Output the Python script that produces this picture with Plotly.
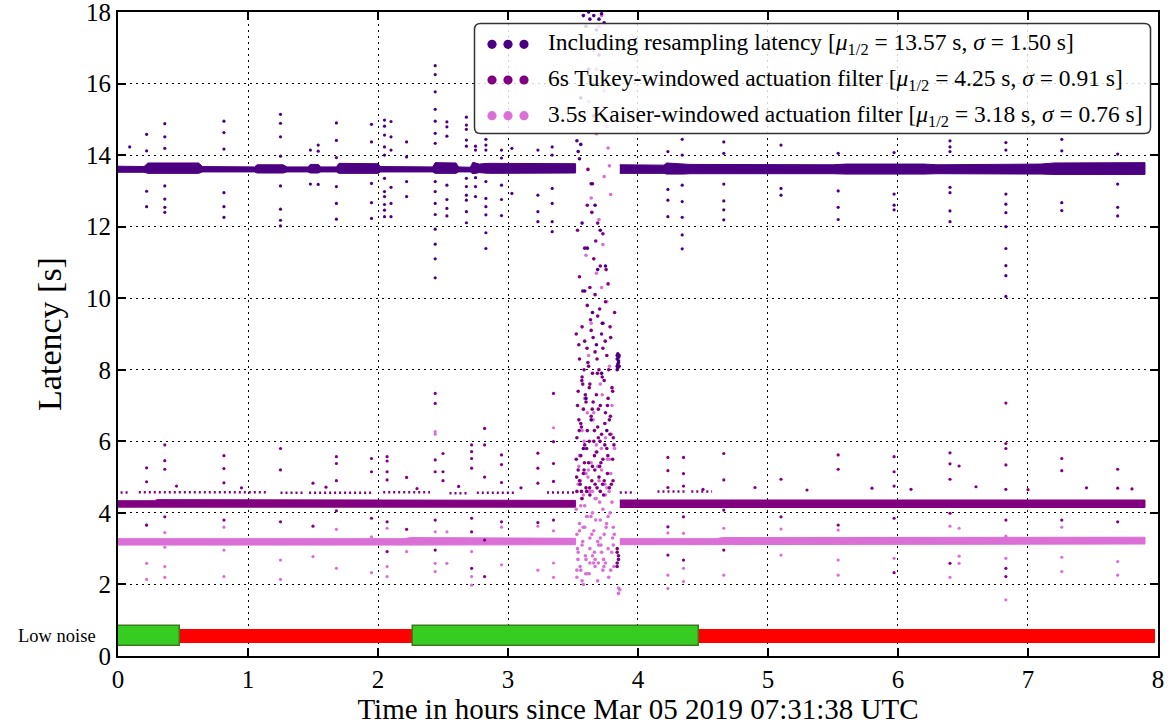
import plotly.graph_objects as go

# ---------------- data ----------------
C1, C2, C3 = "#4B0082", "#800080", "#DA70D6"

# dense latency bands: knot times, lower and upper edge (s)
S1_L_T  = [0.00, 0.20, 0.23, 0.62, 0.65, 1.05, 1.07, 1.27, 1.30, 1.46, 1.48, 1.54, 1.56, 1.68, 1.70, 2.00, 2.02, 2.42, 2.44, 2.60, 2.62, 2.71, 2.73, 2.78, 2.85, 3.52]
S1_L_HI = [13.69, 13.68, 13.78, 13.78, 13.68, 13.67, 13.73, 13.73, 13.67, 13.67, 13.74, 13.74, 13.67, 13.67, 13.77, 13.76, 13.68, 13.67, 13.79, 13.78, 13.67, 13.66, 13.80, 13.75, 13.77, 13.76]
S1_L_LO = [13.52, 13.52, 13.49, 13.49, 13.53, 13.53, 13.50, 13.50, 13.53, 13.53, 13.50, 13.50, 13.53, 13.53, 13.49, 13.49, 13.53, 13.53, 13.49, 13.49, 13.53, 13.53, 13.48, 13.51, 13.49, 13.50]
S1_R_T  = [3.86, 4.20, 4.22, 4.35, 4.40, 5.50, 5.60, 6.20, 6.30, 7.10, 7.20, 7.90]
S1_R_HI = [13.73, 13.72, 13.78, 13.76, 13.74, 13.73, 13.75, 13.75, 13.73, 13.75, 13.78, 13.79]
S1_R_LO = [13.49, 13.49, 13.47, 13.47, 13.48, 13.48, 13.47, 13.47, 13.48, 13.47, 13.46, 13.46]

S2_L_T  = [0.00, 0.28, 0.30, 0.55, 0.58, 3.52]
S2_L_HI = [4.34, 4.34, 4.37, 4.37, 4.35, 4.35]
S2_L_LO = [4.16, 4.16, 4.15, 4.15, 4.16, 4.16]
S2_R_T  = [3.86, 7.90]
S2_R_HI = [4.36, 4.36]
S2_R_LO = [4.15, 4.15]

S3_L_T  = [0.00, 2.20, 2.25, 3.52]
S3_L_HI = [3.28, 3.28, 3.31, 3.29]
S3_L_LO = [3.10, 3.10, 3.12, 3.11]
S3_R_T  = [3.86, 4.60, 4.65, 7.90]
S3_R_HI = [3.28, 3.28, 3.31, 3.32]
S3_R_LO = [3.11, 3.11, 3.13, 3.13]

# sparse secondary Tukey band (start, end) at ~4.57 s
S2_SEC_START = [0.02, 0.16, 1.25, 1.47, 2.04, 2.55, 2.76, 3.30, 3.86, 4.15, 4.41]
S2_SEC_END   = [0.09, 1.15, 1.42, 1.96, 2.40, 2.70, 3.06, 3.52, 3.97, 4.37, 4.57]
S2_SEC_LEVEL = [4.57, 4.58, 4.56, 4.56, 4.58, 4.55, 4.56, 4.57, 4.57, 4.60, 4.60]

# outliers
S1_OUT_T = [0.09, 0.22, 0.22, 0.22, 0.22, 0.36, 0.36, 0.36, 0.36, 0.36, 0.36, 0.36,
            0.815, 0.815, 0.815, 0.815, 0.815, 0.815, 1.25, 1.25, 1.25, 1.25, 1.25, 1.25, 1.25, 1.25,
            1.48, 1.48, 1.54, 1.54, 1.54, 1.68, 1.68, 1.68, 1.68, 1.68, 1.68,
            1.95, 1.95, 1.95, 1.95, 1.95, 2.05, 2.05, 2.05, 2.05, 2.05, 2.05, 2.05, 2.05, 2.05, 2.05, 2.05,
            2.10, 2.10, 2.10, 2.10, 2.10, 2.10, 2.22, 2.22, 2.22, 2.22,
            2.44, 2.44, 2.44, 2.44, 2.44, 2.44, 2.44, 2.44, 2.44, 2.44, 2.44, 2.44, 2.44, 2.44, 2.44,
            2.53, 2.53, 2.53, 2.53, 2.53, 2.53, 2.53,
            2.68, 2.68, 2.68, 2.68, 2.68, 2.68, 2.68, 2.68, 2.68, 2.68, 2.68,
            2.75, 2.75, 2.75, 2.75, 2.75, 2.83, 2.83, 2.83, 2.83, 2.83, 2.83, 2.83, 2.83, 2.83,
            2.95, 2.95, 2.95, 2.95, 2.95, 3.03, 3.03, 3.23, 3.23, 3.23, 3.23,
            3.34, 3.34, 3.34, 3.34, 3.34, 3.34,
            4.23, 4.23, 4.23, 4.23, 4.34, 4.34, 4.34, 4.34, 4.34, 4.34, 4.34,
            4.66, 4.66, 4.66, 4.66, 4.66, 4.66, 5.10, 5.10, 5.10, 5.54, 5.54, 5.54, 5.54,
            5.97, 5.97, 5.97, 5.97, 6.40, 6.40, 6.40, 6.40, 6.40, 6.40, 6.40,
            6.83, 6.83, 6.83, 6.83, 6.83, 6.83, 6.83, 6.83, 6.83, 6.83,
            7.26, 7.26, 7.26, 7.26, 7.69, 7.69, 7.69, 7.69]
S1_OUT_V = [14.23, 14.58, 14.12, 12.99, 12.56, 14.88, 14.51, 14.19, 13.14, 12.77, 12.54, 12.40,
            14.95, 14.63, 14.17, 12.95, 12.56, 12.26, 15.14, 14.89, 14.51, 13.97, 13.14, 12.49, 12.18, 12.02,
            14.14, 13.19, 14.28, 14.11, 13.18, 14.90, 14.41, 13.93, 13.12, 12.65, 12.21,
            14.86, 14.37, 13.21, 12.67, 12.23, 14.98, 14.81, 14.56, 14.23, 14.00, 13.35, 12.98, 12.84, 12.62, 12.46, 12.28,
            14.94, 14.51, 14.14, 13.10, 12.65, 12.28, 14.37, 13.95, 13.26, 12.84,
            16.50, 16.25, 15.77, 15.28, 14.95, 14.61, 14.33, 13.26, 12.98, 12.65, 12.34, 11.93, 11.51, 11.10, 10.57,
            14.93, 14.79, 14.53, 13.16, 12.76, 12.51, 12.30,
            15.06, 14.84, 14.72, 14.42, 14.25, 13.35, 13.12, 12.88, 12.74, 12.42, 12.11,
            14.25, 14.14, 13.37, 13.12, 12.84, 14.44, 14.28, 14.14, 13.26, 12.79, 12.56, 12.33, 11.83, 11.39,
            14.14, 13.92, 13.16, 12.76, 12.31, 14.19, 12.93, 14.14, 12.88, 12.42, 12.14,
            14.23, 14.00, 13.07, 12.65, 12.14, 11.86,
            14.10, 13.04, 12.74, 12.28, 14.44, 14.00, 13.16, 12.70, 12.26, 11.77, 11.38,
            14.37, 14.05, 13.19, 12.72, 12.47, 12.19, 14.28, 13.07, 12.88, 14.05, 13.00, 12.54, 12.20,
            14.07, 12.91, 12.60, 12.47, 14.40, 14.23, 14.10, 13.10, 12.95, 12.44, 12.14,
            14.35, 14.14, 12.91, 12.63, 12.39, 12.00, 11.39, 10.91, 10.63, 10.05,
            14.44, 14.12, 12.67, 12.45, 14.03, 13.19, 12.54, 12.30]

S2_OUT_T = [0.22, 0.22, 0.22, 0.36, 0.36, 0.36, 0.36, 0.815, 0.815, 0.815, 0.815, 1.25, 1.25, 1.25,
            1.50, 1.50, 1.68, 1.68, 1.68, 1.68, 1.95, 1.95, 1.95, 2.07, 2.07, 2.07, 2.07, 2.07, 2.07,
            2.22, 2.22, 2.44, 2.44, 2.44, 2.44, 2.44, 2.44, 2.50, 2.50, 2.50,
            2.72, 2.72, 2.72, 2.72, 2.72, 2.72, 2.72, 2.82, 2.82, 2.82, 2.82, 2.82,
            2.95, 2.95, 2.95, 2.95, 3.23, 3.23, 3.23, 3.23, 3.35, 3.35, 3.35, 3.35, 3.35,
            4.23, 4.23, 4.23, 4.23, 4.23, 4.35, 4.35, 4.35, 4.35, 4.35, 4.66, 4.66, 4.66, 4.66,
            5.10, 5.10, 5.54, 5.54, 5.54, 5.97, 5.97, 5.97, 5.97, 5.97, 6.40, 6.40, 6.40, 6.40, 6.40, 6.47,
            6.83, 6.83, 6.83, 6.83, 6.83, 6.83, 6.83, 6.83, 7.26, 7.26, 7.26, 7.69, 7.69, 7.69,
            0.45, 0.95, 1.60, 2.30, 2.62, 3.10, 4.50, 4.90, 5.30, 5.80, 6.10, 6.60, 7.00, 7.45, 7.80]
S2_OUT_V = [5.26, 4.87, 3.66, 5.90, 5.46, 5.22, 3.89, 5.60, 5.24, 4.84, 3.80, 5.80, 5.20, 3.75,
            4.83, 3.63, 5.57, 5.38, 4.90, 4.06, 5.52, 5.15, 3.85, 5.57, 5.45, 5.15, 4.92, 3.75, 2.92,
            4.99, 3.54, 7.34, 7.06, 5.48, 5.15, 3.80, 2.96, 5.66, 5.15, 4.90,
            5.90, 5.71, 5.52, 5.25, 3.85, 3.47, 2.45, 6.36, 5.90, 5.00, 3.24, 2.22,
            5.62, 5.35, 4.85, 3.75, 5.67, 5.25, 4.83, 3.73, 7.34, 5.99, 5.38, 4.88, 3.80,
            5.55, 5.18, 4.71, 3.61, 2.82, 5.55, 5.10, 4.75, 3.89, 2.68, 5.66, 4.92, 4.08, 2.96,
            4.94, 3.89, 5.62, 5.22, 3.66, 5.57, 5.15, 4.75, 3.85, 2.33, 5.68, 5.37, 4.94, 3.99, 2.59, 5.31,
            7.07, 5.94, 5.80, 5.34, 4.66, 3.80, 2.45, 2.22, 5.52, 5.18, 3.80, 5.22, 4.69, 3.75,
            4.75, 4.70, 4.72, 4.68, 4.74, 4.70, 4.66, 4.71, 4.64, 4.69, 4.66, 4.73, 4.65, 4.70, 4.67]

S3_OUT_T = [0.22, 0.22, 0.22, 0.36, 0.36, 0.36, 0.36, 0.815, 0.815, 0.815, 1.25, 1.25, 1.50,
            1.68, 1.68, 1.95, 1.95, 2.07, 2.07, 2.07, 2.07, 2.22, 2.44, 2.44, 2.44, 2.44, 2.44,
            2.53, 2.53, 2.72, 2.72, 2.72, 2.72, 2.95, 2.95, 3.23, 3.23, 3.35, 3.35, 3.35, 3.35,
            4.23, 4.23, 4.23, 4.35, 4.35, 4.35, 4.66, 4.66, 5.10, 5.10, 5.54, 5.54, 5.54,
            5.97, 5.97, 6.40, 6.40, 6.47, 6.47, 6.47, 6.83, 6.83, 6.83, 7.26, 7.26, 7.26, 7.69, 7.69]
S3_OUT_V = [3.66, 2.59, 2.14, 3.45, 3.04, 2.50, 2.20, 3.60, 2.96, 2.22, 2.68, 2.14, 2.78,
            3.54, 2.45, 3.33, 2.33, 3.57, 3.24, 2.50, 2.22, 2.92, 6.27, 6.20, 3.47, 2.59, 2.36,
            3.47, 2.59, 3.24, 2.92, 2.22, 1.98, 3.60, 2.55, 3.63, 2.40, 6.38, 3.50, 2.60, 2.20,
            3.44, 2.26, 1.89, 3.43, 2.45, 2.08, 3.57, 2.26, 3.55, 2.82, 3.52, 2.68, 2.26,
            3.24, 2.73, 3.63, 2.20, 3.57, 2.79, 2.59, 3.35, 2.73, 1.57, 3.60, 2.76, 2.36, 2.64, 2.26]

# burst around 3.5-3.85 h
S1_BURST_T = [3.53, 3.54, 3.55, 3.56, 3.58, 3.60, 3.62, 3.63, 3.66, 3.68, 3.70, 3.72, 3.74, 3.57, 3.61,
              3.64, 3.67, 3.71, 3.75, 3.59, 3.65, 3.69, 3.73, 3.84, 3.84, 3.85, 3.84, 3.85, 3.84, 3.85,
              3.56, 3.62, 3.66, 3.70, 3.60, 3.64, 3.68, 3.72, 3.58, 3.76,
              3.845, 3.845, 3.845, 3.855, 3.855]
S1_BURST_V = [14.4, 14.1, 13.9, 14.3, 17.9, 17.6, 18.0, 17.8, 17.9, 17.5, 17.8, 17.95, 17.7, 12.1, 11.4,
              13.2, 12.6, 11.9, 10.9, 10.2, 9.6, 10.8, 9.3, 8.4, 8.3, 8.2, 8.1, 8.35, 8.0, 8.25,
              15.6, 16.4, 15.1, 16.8, 7.2, 6.6, 8.7, 7.9, 5.8, 6.3,
              8.45, 8.15, 8.05, 8.4, 8.1]
S2_BURST_T = [3.53, 3.53, 3.54, 3.54, 3.55, 3.55, 3.55, 3.56, 3.56, 3.57, 3.57, 3.57, 3.58, 3.58, 3.59,
              3.59, 3.59, 3.60, 3.60, 3.61, 3.61, 3.61, 3.62, 3.62, 3.63, 3.63, 3.63, 3.64, 3.64, 3.65,
              3.65, 3.65, 3.66, 3.66, 3.67, 3.67, 3.67, 3.68, 3.68, 3.69, 3.69, 3.69, 3.70, 3.70, 3.71,
              3.71, 3.71, 3.72, 3.72, 3.73, 3.73, 3.73, 3.74, 3.74, 3.75, 3.75, 3.76, 3.76, 3.77, 3.77,
              3.78, 3.78, 3.79, 3.80, 3.81, 3.82, 3.84, 3.84, 3.85, 3.84, 3.85, 3.84,
              3.525, 3.535, 3.545, 3.555, 3.565, 3.575, 3.585, 3.595, 3.605, 3.615, 3.625, 3.635, 3.645, 3.655, 3.665,
              3.675, 3.685, 3.695, 3.705, 3.715, 3.725, 3.735, 3.745, 3.755, 3.765, 3.775, 3.785, 3.795, 3.805, 3.815,
              3.525, 3.545, 3.565, 3.585, 3.605, 3.625, 3.645, 3.665, 3.685, 3.705, 3.725, 3.745, 3.765, 3.785, 3.805,
              3.535, 3.575, 3.615, 3.655, 3.695,
              3.528, 3.548, 3.568, 3.588, 3.608, 3.628, 3.648, 3.668, 3.688, 3.708, 3.728, 3.748, 3.768, 3.788, 3.808]
S2_BURST_V = [4.6, 6.1, 5.2, 7.4, 4.9, 8.3, 10.6, 6.5, 5.6, 7.8, 4.4, 9.2, 6.9, 5.1, 8.8,
              11.4, 5.9, 7.1, 4.7, 9.8, 6.3, 12.6, 5.4, 8.1, 7.6, 10.3, 4.5, 6.7, 9.1, 5.3,
              7.9, 13.2, 11.1, 6.0, 8.5, 4.8, 10.1, 7.3, 5.7, 9.5, 6.4, 12.1, 8.0, 5.0, 7.0,
              10.9, 4.6, 6.2, 9.0, 8.6, 5.5, 11.8, 7.7, 4.9, 6.8, 9.9, 5.8, 8.4, 7.2, 10.4,
              6.6, 4.7, 8.9, 7.5, 6.1, 9.6, 2.6, 2.9, 2.7, 2.5, 2.8, 3.0,
              5.5, 7.0, 8.7, 4.8, 6.4, 10.2, 5.2, 7.3, 4.6, 8.2, 6.0, 9.4, 4.9, 7.1, 5.6,
              11.6, 4.7, 6.9, 9.7, 5.4, 7.8, 4.5, 6.5, 10.8, 5.1, 8.0, 6.2, 4.8, 7.4, 5.9,
              9.0, 6.6, 4.6, 8.0, 5.8, 7.5, 12.4, 6.3, 8.3, 5.3, 9.3, 5.9, 7.0, 9.2, 5.5,
              11.9, 7.6, 13.6, 8.9, 6.1,
              5.0, 6.3, 7.7, 5.4, 8.6, 4.7, 6.9, 5.2, 7.9, 6.0, 4.8, 8.8, 5.6, 6.7, 4.9]
S3_BURST_T = [3.53, 3.53, 3.54, 3.54, 3.55, 3.55, 3.56, 3.56, 3.57, 3.57, 3.58, 3.58, 3.59, 3.59, 3.60,
              3.60, 3.61, 3.61, 3.62, 3.62, 3.63, 3.63, 3.64, 3.64, 3.65, 3.65, 3.66, 3.66, 3.67, 3.67,
              3.68, 3.68, 3.69, 3.69, 3.70, 3.70, 3.71, 3.71, 3.72, 3.72, 3.73, 3.73, 3.74, 3.74, 3.75,
              3.75, 3.76, 3.76, 3.77, 3.77, 3.78, 3.78, 3.79, 3.79, 3.80, 3.80, 3.81, 3.82, 3.62, 3.66,
              3.70, 3.74, 3.68, 3.72, 3.76, 3.64, 3.85, 3.85, 3.86,
              3.525, 3.535, 3.545, 3.555, 3.565, 3.575, 3.585, 3.595, 3.605, 3.615, 3.625, 3.635, 3.645, 3.655, 3.665,
              3.675, 3.685, 3.695, 3.705, 3.715, 3.725, 3.735, 3.745, 3.755, 3.765, 3.775, 3.785, 3.795, 3.805, 3.815,
              3.53, 3.55, 3.57, 3.59, 3.61, 3.63, 3.65, 3.67, 3.69, 3.71, 3.73, 3.75, 3.77, 3.79, 3.81,
              3.60, 3.64, 3.68, 3.72, 3.78,
              3.538, 3.558, 3.578, 3.598, 3.618, 3.638, 3.658, 3.678, 3.698, 3.718, 3.738, 3.758, 3.778, 3.798, 3.818]
S3_BURST_V = [3.4, 2.2, 4.8, 2.9, 3.7, 5.6, 2.4, 4.2, 3.1, 6.3, 2.0, 4.5, 3.6, 7.2, 2.7,
              5.1, 3.9, 2.3, 4.6, 8.4, 3.3, 2.6, 5.4, 9.3, 4.0, 2.8, 3.5, 6.8, 2.5, 4.4,
              5.9, 10.7, 3.2, 2.1, 4.9, 12.2, 3.8, 7.6, 2.9, 5.2, 4.1, 11.5, 3.4, 13.4, 6.1,
              2.6, 4.7, 9.9, 3.0, 14.2, 5.5, 8.1, 2.4, 12.9, 4.3, 7.0, 3.6, 5.8, 15.5, 16.9,
              17.6, 15.8, 16.4, 17.9, 14.8, 17.2, 1.9, 1.75, 1.85,
              4.1, 3.0, 5.3, 2.5, 4.4, 3.2, 6.0, 2.8, 3.9, 5.0, 2.3, 4.6, 3.4, 6.6, 2.9,
              3.8, 5.7, 2.6, 4.3, 3.1, 7.3, 2.7, 4.8, 3.6, 5.5, 2.2, 4.0, 6.2, 3.3, 2.5,
              2.4, 3.5, 2.1, 4.2, 6.8, 3.0, 4.6, 2.7, 5.3, 3.3, 2.4, 4.5, 3.9, 5.1, 3.1,
              11.2, 12.8, 14.6, 10.3, 13.7,
              2.7, 4.9, 3.6, 2.3, 5.2, 3.9, 2.6, 4.4, 3.1, 5.8, 2.5, 3.7, 4.6, 2.9, 3.4]

# detector state bar
STATE_START = [0.00, 0.48, 2.27, 4.47]
STATE_END   = [0.48, 2.27, 4.47, 7.98]
STATE_LOW_NOISE = [True, False, True, False]
STATE_LEVEL = 0.56

LEGEND_LABELS = [
    "Including resampling latency [<i>μ</i><sub>1/2</sub> = 13.57 s, <i>σ</i> = 1.50 s]",
    "6s Tukey-windowed actuation filter [<i>μ</i><sub>1/2</sub> = 4.25 s, <i>σ</i> = 0.91 s]",
    "3.5s Kaiser-windowed actuation filter [<i>μ</i><sub>1/2</sub> = 3.18 s, <i>σ</i> = 0.76 s]",
]
X_TICKS = [0, 1, 2, 3, 4, 5, 6, 7, 8]
Y_TICKS = [0, 2, 4, 6, 8, 10, 12, 14, 16, 18]

FONT = "Liberation Serif"

# ---------------- figure ----------------
fig = go.Figure()

# state bar
for s, e, ok in zip(STATE_START, STATE_END, STATE_LOW_NOISE):
    fig.add_trace(go.Bar(
        orientation="h", y=[STATE_LEVEL], x=[e - s], base=[s],
        width=[0.56 if ok else 0.40],
        marker=dict(color="#36CC22" if ok else "#FF0000",
                    line=dict(color="#3C7A1E" if ok else "#FF0000", width=1.5 if ok else 0)),
        showlegend=False, hoverinfo="skip"))


def band(t, lo, hi, color):
    fig.add_trace(go.Scatter(
        x=list(t) + list(reversed(t)), y=list(hi) + list(reversed(lo)),
        mode="lines", fill="toself", fillcolor=color,
        line=dict(color=color, width=1), showlegend=False, hoverinfo="skip"))


band(S3_L_T, S3_L_LO, S3_L_HI, C3)
band(S3_R_T, S3_R_LO, S3_R_HI, C3)
band(S2_L_T, S2_L_LO, S2_L_HI, C2)
band(S2_R_T, S2_R_LO, S2_R_HI, C2)
band(S1_L_T, S1_L_LO, S1_L_HI, C1)
band(S1_R_T, S1_R_LO, S1_R_HI, C1)

# secondary sparse band
sx, sy = [], []
for s, e, lv in zip(S2_SEC_START, S2_SEC_END, S2_SEC_LEVEL):
    sx += [s, e, None]
    sy += [lv, lv, None]
fig.add_trace(go.Scatter(x=sx, y=sy, mode="lines",
                         line=dict(color=C2, width=2.5, dash="2px,3px"),
                         showlegend=False, hoverinfo="skip"))

for tt, vv, col, sz in [(S3_OUT_T, S3_OUT_V, C3, 3.2), (S3_BURST_T, S3_BURST_V, C3, 3.6),
                        (S2_OUT_T, S2_OUT_V, C2, 3.2), (S2_BURST_T, S2_BURST_V, C2, 3.6),
                        (S1_OUT_T, S1_OUT_V, C1, 3.2), (S1_BURST_T, S1_BURST_V, C1, 3.6)]:
    fig.add_trace(go.Scatter(x=tt, y=vv, mode="markers",
                             marker=dict(color=col, size=sz, line=dict(width=0)),
                             showlegend=False, hoverinfo="skip"))

# ---------------- custom legend ----------------
W, H = 1040.0, 644.0
def px(xp): return (xp - 118) / W
def py(yp): return (656 - yp) / H

x0, x1, y0, y1 = px(474.5), px(1150.5), py(133.5), py(23.5)
rx, ry = 6 / W, 6 / H
path = (f"M {x0+rx},{y1} L {x1-rx},{y1} Q {x1},{y1} {x1},{y1-ry} "
        f"L {x1},{y0+ry} Q {x1},{y0} {x1-rx},{y0} L {x0+rx},{y0} Q {x0},{y0} {x0},{y0+ry} "
        f"L {x0},{y1-ry} Q {x0},{y1} {x0+rx},{y1} Z")
shapes = [dict(type="path", path=path, xref="paper", yref="paper", layer="above",
               fillcolor="rgba(255,255,255,0.82)", line=dict(color="#333333", width=1.5))]
annotations = []
rows_y = [44.3, 80.0, 115.7]
for label, col, ry_px in zip(LEGEND_LABELS, [C1, C2, C3], rows_y):
    for dx in [492, 508, 524]:
        r = 4.6
        shapes.append(dict(type="circle", xref="paper", yref="paper", layer="above",
                           x0=px(dx - r), x1=px(dx + r), y0=py(ry_px + r), y1=py(ry_px - r),
                           fillcolor=col, line=dict(width=0)))
    annotations.append(dict(text=label, xref="paper", yref="paper", x=px(546), y=py(ry_px),
                            xanchor="left", yanchor="middle", showarrow=False,
                            font=dict(family=FONT, size=23.5, color="black")))

annotations.append(dict(text="Low noise", xref="paper", yref="y", x=px(98), y=STATE_LEVEL,
                        xanchor="right", yanchor="middle", showarrow=False,
                        font=dict(family=FONT, size=18.5, color="black")))

axis_common = dict(showline=True, linecolor="black", linewidth=2, mirror="ticks",
                   ticks="inside", ticklen=8, tickwidth=1.5, tickcolor="black",
                   showgrid=True, gridcolor="black", gridwidth=1, griddash="1.5px,4.5px",
                   zeroline=False, automargin=False,
                   tickfont=dict(family=FONT, size=25, color="black"))

fig.update_layout(
    width=1174, height=725,
    margin=dict(l=118, r=16, t=12, b=69),
    paper_bgcolor="white", plot_bgcolor="white",
    showlegend=False, barmode="overlay", bargap=0,
    shapes=shapes, annotations=annotations,
    xaxis=dict(range=[0, 8.0001], tickvals=X_TICKS, ticklabeloverflow="allow", **axis_common,
               title=dict(text="Time in hours since Mar 05 2019 07:31:38 UTC",
                          font=dict(family=FONT, size=29, color="black"), standoff=4)),
    yaxis=dict(range=[0, 18.0001], tickvals=Y_TICKS, ticklabeloverflow="allow", **axis_common,
               title=dict(text="Latency [s]", font=dict(family=FONT, size=34, color="black"),
                          standoff=14)),
)

fig.write_html("out.html")
